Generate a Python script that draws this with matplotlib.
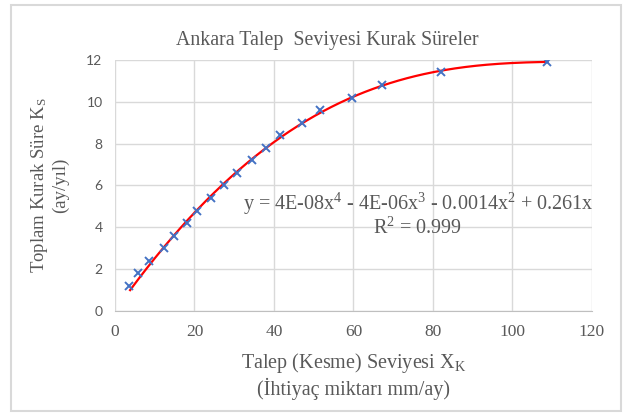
import numpy as np
import matplotlib
matplotlib.use('Agg')
import matplotlib.pyplot as plt
from matplotlib.patches import Rectangle

plt.rcParams['mathtext.fontset'] = 'custom'
plt.rcParams['mathtext.rm'] = 'Liberation Serif'
plt.rcParams['mathtext.it'] = 'Liberation Serif'

txtcol = '#595959'
gridcol = '#d9d9d9'
serif = 'Liberation Serif'

# talep seviyesi (mm/ay) ve kurak sure (ay/yil)
talep = [3.5, 5.9, 8.5, 12.3, 14.9, 18.2, 20.6, 24.2, 27.5, 30.6,
         34.6, 38.0, 41.5, 47.0, 51.7, 59.7, 67.3, 82.0, 108.8]
sure = [1.2, 1.8, 2.4, 3.0, 3.6, 4.2, 4.8, 5.4, 6.0, 6.6,
        7.2, 7.8, 8.4, 9.0, 9.6, 10.2, 10.8, 11.4, 11.92]

xticks = [0, 20, 40, 60, 80, 100, 120]
yticks = [0, 2, 4, 6, 8, 10, 12]

x = np.array(talep)
y = np.array(sure)

# 4. derece polinom trend cizgisi, sabit terim yok (Excel gibi)
A = np.vstack([x**4, x**3, x**2, x]).T
coef = np.linalg.lstsq(A, y, rcond=None)[0]
xs = np.linspace(x.min() + 0.3, x.max(), 200)
ys = np.vstack([xs**4, xs**3, xs**2, xs]).T @ coef

fig = plt.figure(figsize=(6.25, 4.16), dpi=100)
ax = fig.add_axes([0.184, 0.2524, 0.763, 0.6036])

ax.plot(xs, ys, color='#ff0000', lw=1.6, zorder=3)
ax.plot(x, y, ls='none', marker='x', color='#4472c4', ms=5.5, mew=1.4, zorder=4)

ax.set_xlim(0, 120)
ax.set_ylim(0, 12)
ax.set_xticks(xticks)
ax.set_yticks(yticks)
ax.grid(True, color=gridcol, lw=1)
ax.set_axisbelow(True)
for s in ['top', 'right', 'left']:
    ax.spines[s].set_visible(False)
ax.spines['bottom'].set_color('#bfbfbf')
ax.tick_params(length=0)
ax.tick_params(axis='x', pad=9, labelcolor=txtcol)
ax.tick_params(axis='y', pad=9, labelcolor=txtcol)
for lab in ax.get_xticklabels():
    lab.set_fontfamily(serif)
    lab.set_fontsize(12.5)
for lab in ax.get_yticklabels():
    lab.set_fontfamily('Lato')
    lab.set_fontsize(10)

fig.text(0.524, 0.892, 'Ankara Talep  Seviyesi Kurak Süreler', fontfamily=serif,
         fontsize=14.3, color=txtcol, ha='center', va='baseline')
ax.set_xlabel('Talep (Kesme) Seviyesi X$_\\mathrm{K}$\n(İhtiyaç miktarı mm/ay)',
              fontfamily=serif, fontsize=14.5, color=txtcol, labelpad=8)
ax.set_ylabel('Toplam Kurak Süre K$_\\mathrm{S}$\n(ay/yıl)',
              fontfamily=serif, fontsize=13.5, color=txtcol, labelpad=12)

ax.text(76.2, 4.6, 'y = 4E-08x$^4$ - 4E-06x$^3$ - 0.0014x$^2$ + 0.261x\nR$^2$ = 0.999',
        fontfamily=serif, fontsize=14.5, color=txtcol, ha='center', va='center',
        multialignment='center', linespacing=1.05)

fig.patches.append(Rectangle((0.018, 0.012), 0.975, 0.977, transform=fig.transFigure,
                             fill=False, edgecolor=gridcol, lw=1.5))

plt.savefig('out.png', dpi=100)
